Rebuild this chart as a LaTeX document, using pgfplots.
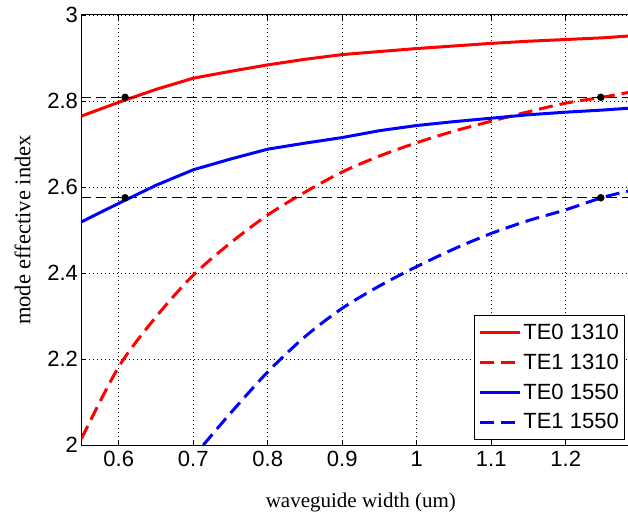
\documentclass[border=0pt]{standalone}
\usepackage{pgfplots}
\pgfplotsset{compat=1.18}
\usepackage{fontspec}
\setmainfont{Liberation Serif}
\newfontfamily\arial{Liberation Sans}
\begin{document}
\begin{tikzpicture}
\begin{axis}[
  at={(0,0)}, anchor=south west,
  scale only axis,
  width=558.75pt, height=430pt,
  xmin=0.55, xmax=1.3, ymin=2, ymax=3,
  xtick={0.6,0.7,0.8,0.9,1,1.1,1.2,1.3},
  xticklabels={0.6,0.7,0.8,0.9,1,1.1,1.2,{}},
  ytick={2,2.2,2.4,2.6,2.8,3},
  yticklabels={2,2.2,2.4,2.6,2.8,3},
  tick align=inside,
  major tick length=5pt,
  tick style={black, line width=0.8pt},
  axis line style={black, line width=1pt},
  grid=major,
  grid style={black, line width=0.8pt, dash pattern=on 0.8pt off 3.2pt},
  ticklabel style={font=\arial\fontsize{22}{26}\selectfont},
  xticklabel style={yshift=-3pt},
  yticklabel style={xshift=0pt},
  xlabel={waveguide width (um)},
  ylabel={mode effective index},
  xlabel style={font=\fontsize{21}{25}\selectfont, yshift=-19pt},
  ylabel style={font=\fontsize{22.5}{26}\selectfont, yshift=10pt},
  legend cell align=left,
  legend style={at={(0.7024,0.012)}, anchor=south west, draw=black, line width=0.8pt,
    font=\arial\fontsize{22}{26}\selectfont, row sep=9pt, inner xsep=4pt, inner ysep=7pt},
  legend image code/.code={\draw[#1] (0pt,0pt) -- (40pt,0pt);},
]
\addplot[red, line width=3pt] coordinates {
(0.55,2.765) (0.6,2.797) (0.65,2.827) (0.7,2.853) (0.75,2.869) (0.8,2.884)
(0.85,2.897) (0.9,2.908) (0.95,2.915) (1.0,2.922) (1.05,2.928) (1.1,2.934)
(1.15,2.939) (1.2,2.943) (1.25,2.947) (1.3,2.953)};
\addlegendentry{TE0 1310}
\addplot[red, line width=3pt, dash pattern=on 14pt off 7pt, smooth] coordinates {
(0.55,2.015) (0.6,2.182) (0.65,2.298) (0.7,2.395) (0.75,2.470) (0.8,2.535)
(0.85,2.588) (0.9,2.635) (0.95,2.672) (1.0,2.703) (1.05,2.730) (1.1,2.753)
(1.15,2.775) (1.2,2.795) (1.25,2.809) (1.3,2.825)};
\addlegendentry{TE1 1310}
\addplot[blue, line width=3pt] coordinates {
(0.55,2.519) (0.6,2.562) (0.65,2.604) (0.7,2.640) (0.75,2.665) (0.8,2.688)
(0.85,2.702) (0.9,2.715) (0.95,2.731) (1.0,2.743) (1.05,2.752) (1.1,2.760)
(1.15,2.768) (1.2,2.774) (1.25,2.779) (1.3,2.785)};
\addlegendentry{TE0 1550}
\addplot[blue, line width=3pt, dash pattern=on 14pt off 7pt, smooth] coordinates {
(0.7135,2.0) (0.75,2.074) (0.8,2.170) (0.85,2.252) (0.9,2.318) (0.95,2.370)
(1.0,2.415) (1.05,2.456) (1.1,2.492) (1.15,2.522) (1.2,2.547) (1.25,2.576)
(1.3,2.597)};
\addlegendentry{TE1 1550}
\addplot[black, line width=0.9pt, dash pattern=on 10pt off 5pt, forget plot] coordinates {(0.55,2.8086) (1.3,2.8086)};
\addplot[black, line width=0.9pt, dash pattern=on 10pt off 5pt, forget plot] coordinates {(0.55,2.575) (1.3,2.575)};
\addplot[only marks, mark=*, mark size=3.5pt, black, forget plot] coordinates {
(0.6085,2.8086) (1.247,2.8086) (0.6085,2.575) (1.247,2.575)};
\end{axis}
\pgfresetboundingbox
\useasboundingbox (-81.5pt,-67pt) rectangle (546.5pt,445pt);
\end{tikzpicture}
\end{document}
